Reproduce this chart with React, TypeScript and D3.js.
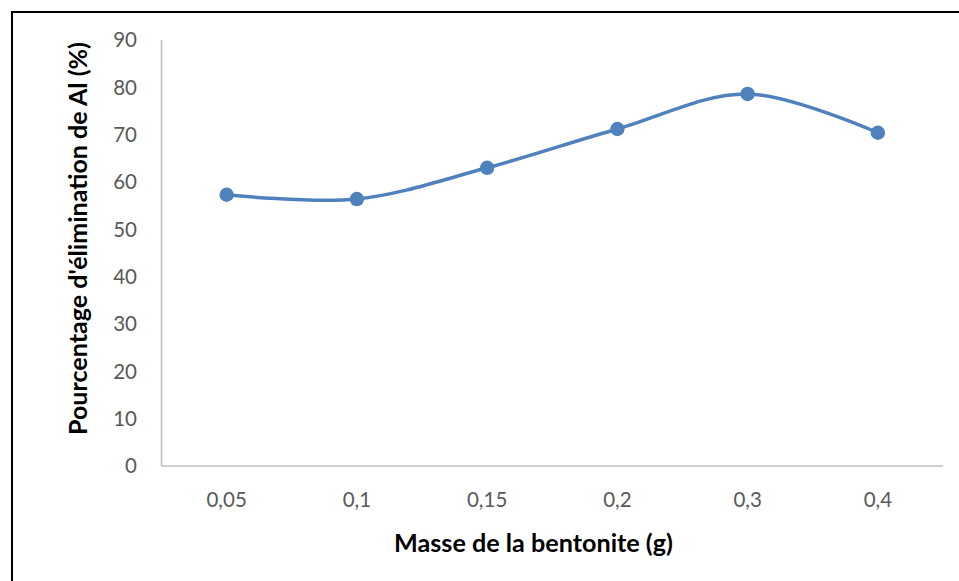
import React from "react";
import * as d3 from "d3";

const categories = ["0,05", "0,1", "0,15", "0,2", "0,3", "0,4"];
const values = [57.3, 56.4, 63.0, 71.2, 78.6, 70.4];
const yTicks = [0, 10, 20, 30, 40, 50, 60, 70, 80, 90];
const xTitle = "Masse de la bentonite (g)";
const yTitle = "Pourcentage d'élimination de Al (%)";

export default function App() {
  const W = 959, H = 581;
  const left = 161.5, right = 943, top = 40, bottom = 466;
  const x = d3.scaleBand<string>().domain(categories).range([left, right]);
  const y = d3.scaleLinear().domain([0, 90]).range([bottom, top]);
  const pts: [number, number][] = categories.map((c, i) => [x(c)! + x.bandwidth() / 2, y(values[i])]);
  const line = d3.line().curve(d3.curveCardinal.tension(0))(pts) || "";
  const font = "Lato, 'Open Sans', sans-serif";
  return (
    <svg width={W} height={H} style={{ position: "absolute", left: 0, top: 0 }}>
      <rect x={0} y={0} width={W} height={H} fill="#fff" />
      <rect x={12} y={12} width={W + 20} height={H + 20} fill="none" stroke="#000" strokeWidth={2} />
      <line x1={left} x2={left} y1={top} y2={bottom} stroke="#bfbfbf" strokeWidth={1.5} />
      <line x1={left} x2={right} y1={bottom} y2={bottom} stroke="#bfbfbf" strokeWidth={1.5} />
      {yTicks.map((t) => (
        <text key={t} x={137} y={y(t)} dy="0.35em" textAnchor="end" fontFamily={font} fontSize={20.5} fill="#595959">
          {t}
        </text>
      ))}
      {categories.map((c) => (
        <text key={c} x={x(c)! + x.bandwidth() / 2} y={507} textAnchor="middle" fontFamily={font} fontSize={20.5} fill="#595959">
          {c}
        </text>
      ))}
      <path d={line} fill="none" stroke="#4f81bd" strokeWidth={3.5} />
      {pts.map((p, i) => (
        <circle key={i} cx={p[0]} cy={p[1]} r={7.2} fill="#4f81bd" />
      ))}
      <text x={533.5} y={552} textAnchor="middle" fontFamily={font} fontSize={24} fontWeight="bold" fill="#000" textLength={279} lengthAdjust="spacingAndGlyphs">
        {xTitle}
      </text>
      <text transform={`translate(87,238.5) rotate(-90)`} textAnchor="middle" fontFamily={font} fontSize={24} fontWeight="bold" fill="#000" textLength={393} lengthAdjust="spacingAndGlyphs">
        {yTitle}
      </text>
    </svg>
  );
}
